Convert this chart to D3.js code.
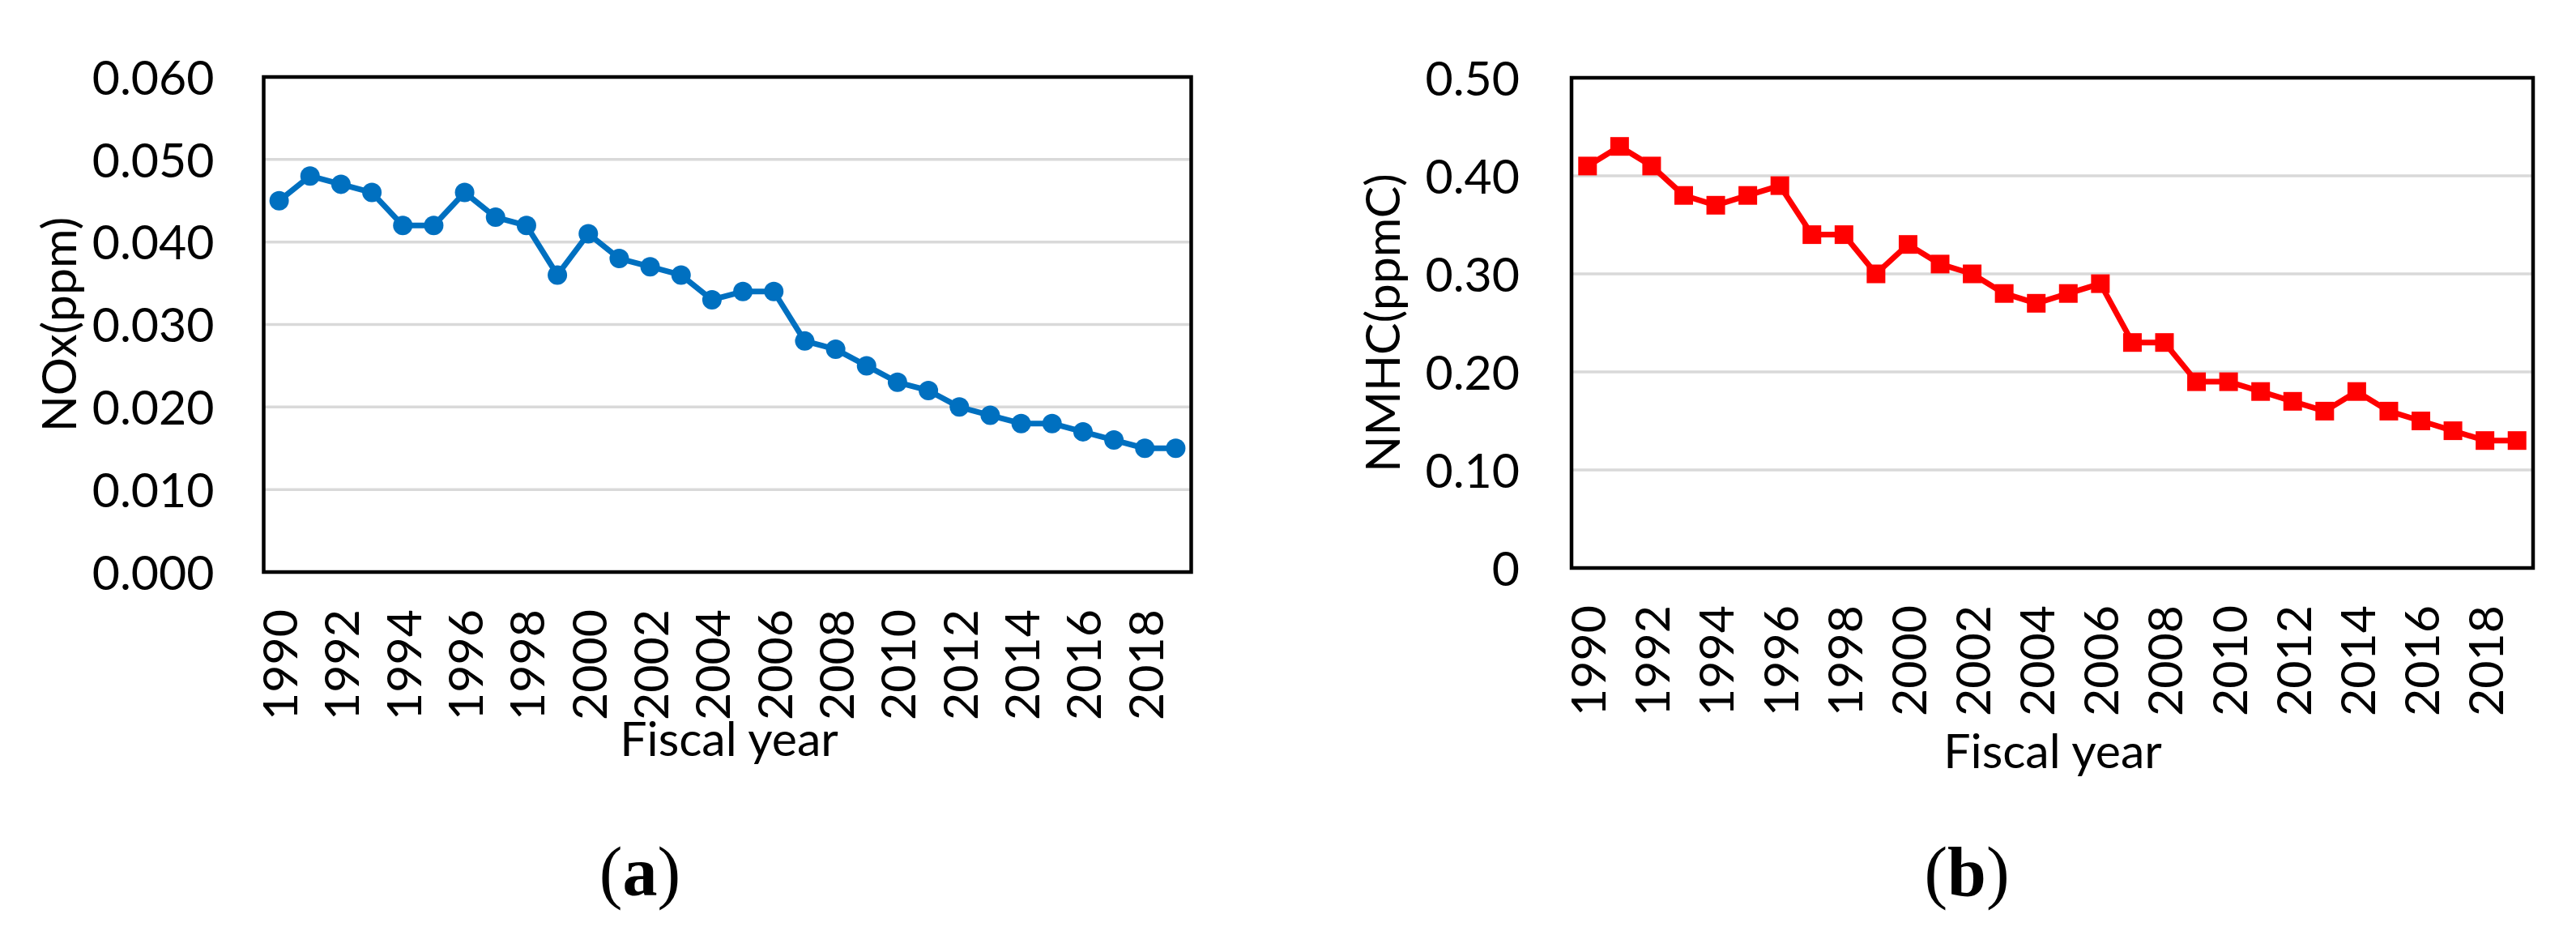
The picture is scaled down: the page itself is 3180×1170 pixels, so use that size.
<!DOCTYPE html>
<html>
<head>
<meta charset="utf-8">
<script src="https://cdn.jsdelivr.net/npm/d3@7"></script>
<style>
  html, body { margin: 0; padding: 0; background: #ffffff; }
  svg { display: block; }
  text { font-family: Lato, "Open Sans", sans-serif; fill: #000; }
  .cap { font-family: "Liberation Serif", "Times New Roman", serif; }
</style>
</head>
<body>
<svg id="chart" width="3180" height="1170"></svg>
<script>
// ---------------- data ----------------
const years = [1990, 1991, 1992, 1993, 1994, 1995, 1996, 1997, 1998, 1999,
               2000, 2001, 2002, 2003, 2004, 2005, 2006, 2007, 2008, 2009,
               2010, 2011, 2012, 2013, 2014, 2015, 2016, 2017, 2018, 2019];
const xTickYears = [1990, 1992, 1994, 1996, 1998, 2000, 2002, 2004, 2006, 2008,
                    2010, 2012, 2014, 2016, 2018];

const noxValues = [0.045, 0.048, 0.047, 0.046, 0.042, 0.042, 0.046, 0.043, 0.042, 0.036,
                   0.041, 0.038, 0.037, 0.036, 0.033, 0.034, 0.034, 0.028, 0.027, 0.025,
                   0.023, 0.022, 0.020, 0.019, 0.018, 0.018, 0.017, 0.016, 0.015, 0.015];
const noxTicks = [0, 0.01, 0.02, 0.03, 0.04, 0.05, 0.06];
const noxTickLabels = ["0.000", "0.010", "0.020", "0.030", "0.040", "0.050", "0.060"];

const nmhcValues = [0.41, 0.43, 0.41, 0.38, 0.37, 0.38, 0.39, 0.34, 0.34, 0.30,
                    0.33, 0.31, 0.30, 0.28, 0.27, 0.28, 0.29, 0.23, 0.23, 0.19,
                    0.19, 0.18, 0.17, 0.16, 0.18, 0.16, 0.15, 0.14, 0.13, 0.13];
const nmhcTicks = [0, 0.1, 0.2, 0.3, 0.4, 0.5];
const nmhcTickLabels = ["0", "0.10", "0.20", "0.30", "0.40", "0.50"];

// ---------------- drawing ----------------
const svg = d3.select("#chart");
svg.append("rect").attr("width", 3180).attr("height", 1170).attr("fill", "#fff");

const FS = 59;

function panel(cfg) {
  const x = d3.scaleBand().domain(years).range([cfg.left, cfg.right]).paddingInner(0).paddingOuter(0);
  const y = d3.scaleLinear().domain([0, cfg.max]).range([cfg.bottom, cfg.top]);
  const cx = d => x(d) + x.bandwidth() / 2;
  const g = svg.append("g");

  // gridlines
  g.append("g").selectAll("line").data(cfg.ticks.filter(t => t > 0 && t < cfg.max))
    .join("line")
    .attr("x1", cfg.left).attr("x2", cfg.right)
    .attr("y1", d => y(d)).attr("y2", d => y(d))
    .attr("stroke", "#D9D9D9").attr("stroke-width", 3.5);

  // y axis labels
  const yAxis = d3.axisLeft(y).tickValues(cfg.ticks).tickSize(0)
    .tickPadding(cfg.yPad)
    .tickFormat((d, i) => cfg.tickLabels[i]);
  const ya = g.append("g").attr("transform", `translate(${cfg.left},0)`).call(yAxis);
  ya.select(".domain").remove();
  ya.selectAll("text").attr("font-size", FS).attr("font-family", "Lato, sans-serif")
    .attr("fill", "#000").attr("dy", "0.36em");

  // x axis labels
  const xAxis = d3.axisBottom(x).tickValues(xTickYears).tickSize(0);
  const xa = g.append("g").attr("transform", `translate(0,${cfg.bottom})`).call(xAxis);
  xa.select(".domain").remove();
  xa.selectAll("text")
    .attr("font-size", FS).attr("font-family", "Lato, sans-serif").attr("fill", "#000")
    .attr("transform", "rotate(-90)")
    .attr("text-anchor", "end")
    .attr("x", -cfg.xGap).attr("y", 0).attr("dy", "0.38em");

  // line
  const line = d3.line().x((d, i) => cx(years[i])).y(d => y(d));
  g.append("path").datum(cfg.values)
    .attr("d", line).attr("fill", "none")
    .attr("stroke", cfg.color).attr("stroke-width", 7).attr("stroke-linejoin", "round");

  // markers
  if (cfg.marker === "circle") {
    g.append("g").selectAll("circle").data(cfg.values).join("circle")
      .attr("cx", (d, i) => cx(years[i])).attr("cy", d => y(d))
      .attr("r", 12).attr("fill", cfg.color);
  } else {
    const s = 23;
    g.append("g").selectAll("rect").data(cfg.values).join("rect")
      .attr("x", (d, i) => cx(years[i]) - s / 2).attr("y", d => y(d) - s / 2)
      .attr("width", s).attr("height", s).attr("fill", cfg.color);
  }

  // plot border
  g.append("rect")
    .attr("x", cfg.left).attr("y", cfg.top)
    .attr("width", cfg.right - cfg.left).attr("height", cfg.bottom - cfg.top)
    .attr("fill", "none").attr("stroke", "#000").attr("stroke-width", 4.5);

  // y title
  g.append("text")
    .attr("transform", `translate(${cfg.yTitleX},${(cfg.top + cfg.bottom) / 2}) rotate(-90)`)
    .attr("text-anchor", "middle").attr("font-size", FS)
    .text(cfg.yTitle);

  // x title
  g.append("text")
    .attr("x", cfg.xTitleX).attr("y", cfg.xTitleY)
    .attr("text-anchor", "middle").attr("font-size", FS)
    .text("Fiscal year");

  // caption
  const cap = g.append("text").attr("class", "cap")
    .attr("x", cfg.capX).attr("y", 1105)
    .attr("text-anchor", "middle").attr("font-size", 86);
  cap.append("tspan").text("(");
  cap.append("tspan").attr("font-weight", "bold").text(cfg.capLetter);
  cap.append("tspan").text(")");
}

panel({
  left: 325.5, right: 1470.5, top: 95, bottom: 706,
  max: 0.06, ticks: noxTicks, tickLabels: noxTickLabels,
  values: noxValues, color: "#0070C0", marker: "circle",
  yPad: 61, xGap: 46,
  yTitle: "NOx(ppm)", yTitleX: 94,
  xTitleX: 900, xTitleY: 933,
  capX: 790, capLetter: "a"
});

panel({
  left: 1940, right: 3127, top: 96, bottom: 701,
  max: 0.5, ticks: nmhcTicks, tickLabels: nmhcTickLabels,
  values: nmhcValues, color: "#FF0000", marker: "square",
  yPad: 64, xGap: 46,
  yTitle: "NMHC(ppmC)", yTitleX: 1728,
  xTitleX: 2534, xTitleY: 948,
  capX: 2428, capLetter: "b"
});
</script>
</body>
</html>
